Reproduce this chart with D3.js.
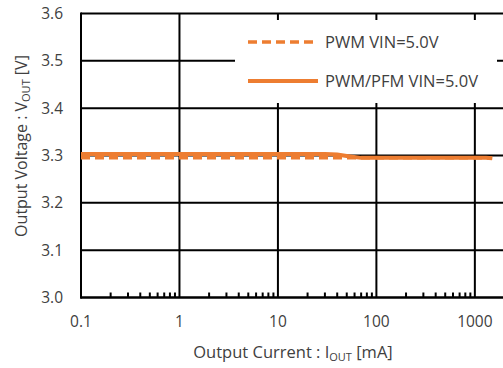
<!DOCTYPE html>
<html><head><meta charset="utf-8">
<script src="https://cdn.jsdelivr.net/npm/d3@7"></script>
<style>html,body{margin:0;padding:0;background:#fff;}svg{display:block;}</style>
</head><body>
<svg id="chart" width="503" height="368"></svg>
<script>
const current = [0.1, 0.2, 0.5, 1, 2, 5, 10, 20, 30, 40, 50, 70, 100, 200, 500, 1000, 1300, 1500];
const pwmVout = [3.295, 3.295, 3.295, 3.295, 3.295, 3.295, 3.295, 3.295, 3.295, 3.295, 3.295, 3.295, 3.295, 3.295, 3.295, 3.295, 3.295, 3.294];
const pwmPfmVout = [3.303, 3.303, 3.303, 3.303, 3.303, 3.303, 3.303, 3.303, 3.303, 3.302, 3.299, 3.295, 3.295, 3.295, 3.295, 3.295, 3.295, 3.294];
const xTicks = [0.1, 1, 10, 100, 1000];
const yTicks = [3.0, 3.1, 3.2, 3.3, 3.4, 3.5, 3.6];
const seriesNames = ["PWM VIN=5.0V", "PWM/PFM VIN=5.0V"];

const svg = d3.select("#chart");
const color = "#ED7D31", textColor = "#404040";
const font = "'Open Sans', sans-serif";
const L = 81, R = 504.5, T = 13.5, B = 297.5;
const x = d3.scaleLog().domain([0.1, 2000]).range([L, R]);
const y = d3.scaleLinear().domain([3.0, 3.6]).range([B, T]);

// gridlines
svg.append("g").selectAll("line").data(yTicks).join("line")
  .attr("x1", L).attr("x2", 503).attr("y1", d => y(d)).attr("y2", d => y(d))
  .attr("stroke", "#000").attr("stroke-width", 2);
svg.append("g").selectAll("line").data(xTicks).join("line")
  .attr("x1", d => x(d)).attr("x2", d => x(d)).attr("y1", T).attr("y2", B)
  .attr("stroke", "#000").attr("stroke-width", 2);

// minor ticks on x axis
const minors = [];
[0.1, 1, 10, 100, 1000].forEach(dec => { for (let k = 2; k <= 9; k++) { const v = dec * k; if (v < 2000) minors.push(v); } });
svg.append("g").selectAll("line").data(minors).join("line")
  .attr("x1", d => x(d)).attr("x2", d => x(d)).attr("y1", B).attr("y2", B - 5)
  .attr("stroke", "#000").attr("stroke-width", 2);

// axes lines
svg.append("line").attr("x1", L).attr("x2", L).attr("y1", T - 1).attr("y2", B + 1).attr("stroke", "#000").attr("stroke-width", 2);
svg.append("line").attr("x1", L - 1).attr("x2", 503).attr("y1", B).attr("y2", B).attr("stroke", "#000").attr("stroke-width", 2);

// tick labels
svg.append("g").selectAll("text").data(yTicks).join("text")
  .attr("x", 63).attr("y", d => y(d)).attr("dy", "0.36em").attr("text-anchor", "end")
  .attr("font-family", font).attr("font-size", 15.5).attr("fill", textColor)
  .text(d => d.toFixed(1));
svg.append("g").selectAll("text").data(xTicks).join("text")
  .attr("x", d => x(d)).attr("y", 327).attr("text-anchor", "middle")
  .attr("font-family", font).attr("font-size", 15.5).attr("fill", textColor)
  .text(d => String(d));

// axis titles
const xt = svg.append("text").attr("x", 293).attr("y", 358).attr("text-anchor", "middle")
  .attr("font-family", font).attr("font-size", 16.5).attr("fill", textColor);
xt.append("tspan").text("Output Current : I");
xt.append("tspan").attr("font-size", 11).attr("dy", 3).text("OUT");
xt.append("tspan").attr("dy", -3).text(" [mA]");

const yt = svg.append("text").attr("transform", "translate(27,146) rotate(-90)").attr("text-anchor", "middle")
  .attr("font-family", font).attr("font-size", 16).attr("fill", textColor);
yt.append("tspan").text("Output Voltage : V");
yt.append("tspan").attr("font-size", 11).attr("dy", 3).text("OUT");
yt.append("tspan").attr("dy", -3).text(" [V]");

// lines
const line = d3.line().x((d, i) => x(current[i])).y(d => y(d));
svg.append("path").datum(pwmVout).attr("d", line).attr("fill", "none")
  .attr("stroke", color).attr("stroke-width", 3.5).attr("stroke-dasharray", "9,5");
svg.append("path").datum(pwmPfmVout).attr("d", line).attr("fill", "none")
  .attr("stroke", color).attr("stroke-width", 4);

// legend
svg.append("rect").attr("x", 235).attr("y", 20).attr("width", 262).attr("height", 83).attr("fill", "#fff");
const lg = [{ y: 42, dash: "9,5", w: 3.5 }, { y: 81, dash: null, w: 4 }];
lg.forEach((g, i) => {
  svg.append("line").attr("x1", 248).attr("x2", 318).attr("y1", g.y).attr("y2", g.y)
    .attr("stroke", color).attr("stroke-width", g.w).attr("stroke-dasharray", g.dash);
  svg.append("text").attr("x", 325).attr("y", g.y).attr("dy", "0.36em")
    .attr("font-family", font).attr("font-size", 16.5).attr("fill", textColor).text(seriesNames[i]);
});
</script>
</body></html>
